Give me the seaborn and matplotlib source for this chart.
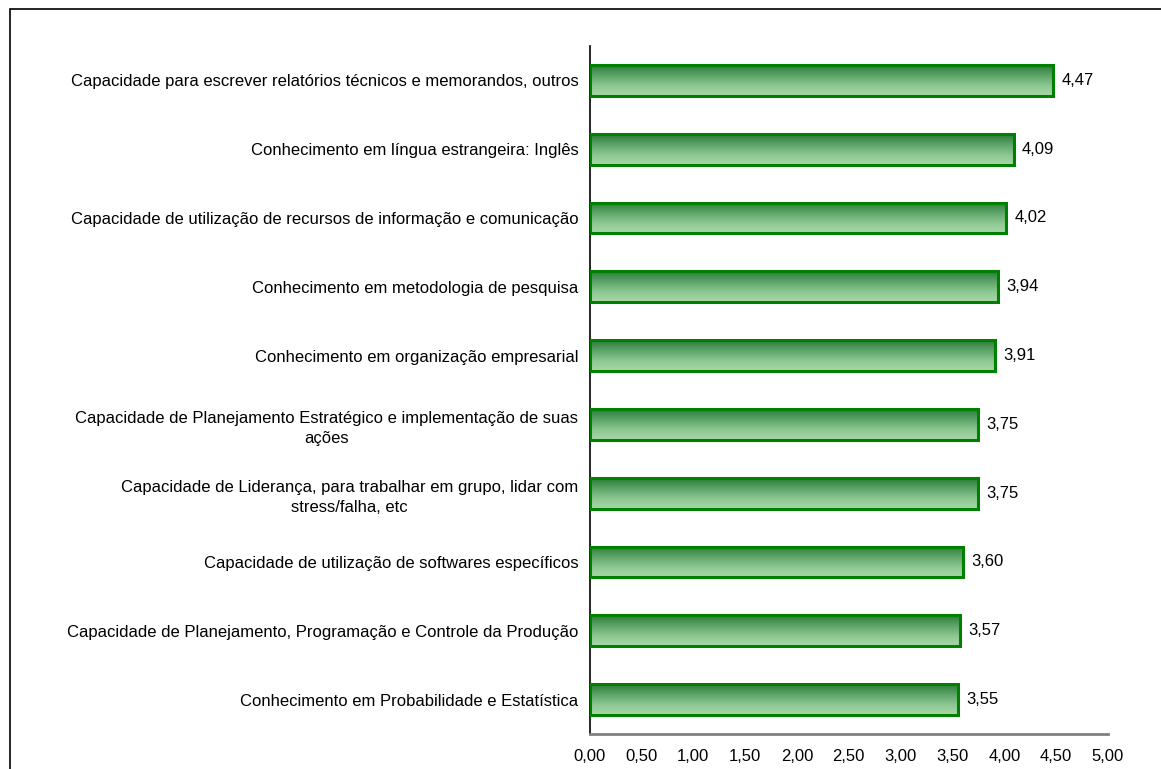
import matplotlib
matplotlib.use("Agg")
import matplotlib.pyplot as plt
import seaborn as sns
import numpy as np
import pandas as pd
from matplotlib.patches import Rectangle
from matplotlib.colors import LinearSegmentedColormap

categories = [
    "Capacidade para escrever relatórios técnicos e memorandos, outros",
    "Conhecimento em língua estrangeira: Inglês",
    "Capacidade de utilização de recursos de informação e comunicação",
    "Conhecimento em metodologia de pesquisa",
    "Conhecimento em organização empresarial",
    "Capacidade de Planejamento Estratégico e implementação de suas\nações",
    "Capacidade de Liderança, para trabalhar em grupo, lidar com\nstress/falha, etc",
    "Capacidade de utilização de softwares específicos",
    "Capacidade de Planejamento, Programação e Controle da Produção",
    "Conhecimento em Probabilidade e Estatística",
]
values = [4.47, 4.09, 4.02, 3.94, 3.91, 3.75, 3.75, 3.60, 3.57, 3.55]
xticks = [0.0, 0.5, 1.0, 1.5, 2.0, 2.5, 3.0, 3.5, 4.0, 4.5, 5.0]

sns.set_style("white")
plt.rcParams['font.family'] = ['Liberation Sans', 'DejaVu Sans']
plt.rcParams['text.color'] = 'black'
plt.rcParams['xtick.labelcolor'] = 'black'
plt.rcParams['ytick.labelcolor'] = 'black'

W, H = 1161, 769
fig = plt.figure(figsize=(W / 100, H / 100), dpi=100)
ax = fig.add_axes([589.5 / W, 1 - 734 / H, (1108 - 589.5) / W, (734 - 46) / H])

df = pd.DataFrame({"cat": categories, "val": values})
sns.barplot(data=df, x="val", y="cat", orient="h", ax=ax, width=0.45,
            color="#6fb07a", edgecolor="#008000", linewidth=2.2, saturation=1)

cmap = LinearSegmentedColormap.from_list(
    "g", ["#2c7b39", "#5ca367", "#8cc791", "#a9d9a9"])
grad = np.linspace(0, 1, 256).reshape(-1, 1)
for p in list(ax.patches):
    x0, y0 = p.get_x(), p.get_y()
    w, h = p.get_width(), p.get_height()
    p.set_facecolor("none")
    p.set_zorder(3)
    im = ax.imshow(grad, cmap=cmap, aspect="auto",
                   extent=[x0, x0 + w, y0 + h, y0], zorder=2,
                   interpolation="bilinear")
    im.set_clip_path(p)

ax.set_xlim(0, 5)
ax.set_ylim(len(categories) - 0.5, -0.5)
ax.set_xlabel("")
ax.set_ylabel("")

for i, v in enumerate(values):
    ax.text(v + 0.08, i, f"{v:.2f}".replace(".", ","), va="center",
            ha="left", fontsize=12, color="black")

ax.set_xticks(xticks)
ax.set_xticklabels([f"{t:.2f}".replace(".", ",") for t in xticks], fontsize=12)
ax.set_yticks(range(len(categories)))
ax.set_yticklabels(categories, fontsize=12, multialignment="center",
                   linespacing=1.45)
ax.tick_params(axis="y", length=0, pad=8)
ax.tick_params(axis="x", direction="in", length=4, width=1, color="#404040", pad=11)
ax.set_yticks(np.arange(-0.5, len(categories), 1.0), minor=True)
ax.tick_params(axis="y", which="minor", direction="out", length=5, width=1, color="black")

for s in ["top", "right"]:
    ax.spines[s].set_visible(False)
ax.spines["left"].set_color("black")
ax.spines["left"].set_linewidth(1.2)
ax.spines["bottom"].set_color("#808080")
ax.spines["bottom"].set_linewidth(2)

fig.patches.append(Rectangle((9.5 / W, -0.1), 1.2, 1 - 9.5 / H + 0.1,
                             transform=fig.transFigure, fill=False,
                             edgecolor="black", linewidth=1.2, zorder=0))

fig.savefig("out.png", dpi=100)
